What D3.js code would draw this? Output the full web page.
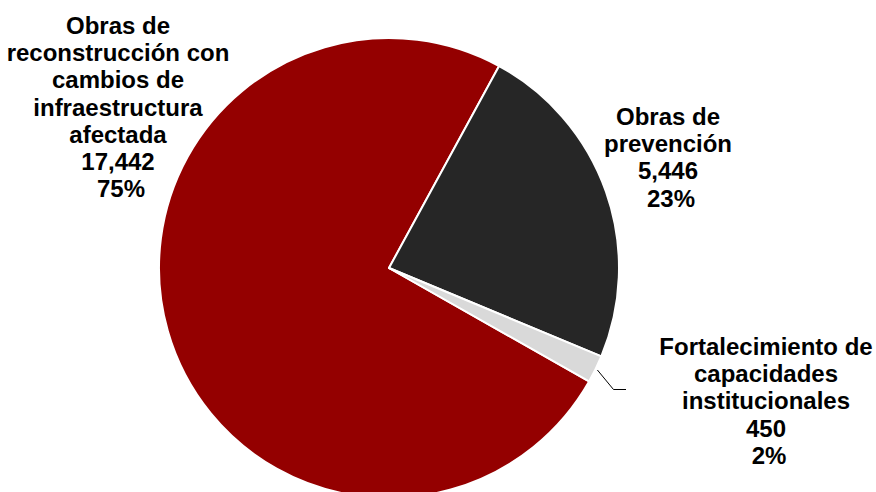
<!DOCTYPE html>
<html>
<head>
<meta charset="utf-8">
<script src="https://cdn.jsdelivr.net/npm/d3@7"></script>
<style>
  html, body { margin: 0; padding: 0; background: #ffffff; }
  svg { display: block; }
  text { font-family: "Liberation Sans", Arial, sans-serif; font-weight: bold; fill: #000; }
</style>
</head>
<body>
<svg id="chart" width="876" height="492"></svg>
<script>
// Distribution of works by type
const categories = [
  ["Obras de", "reconstrucción con", "cambios de", "infraestructura", "afectada"],
  ["Obras de", "prevención"],
  ["Fortalecimiento de", "capacidades", "institucionales"]
];
const values = [17442, 5446, 450];
const colors = ["#940000", "#262626", "#d9d9d9"];

const width = 876, height = 492;
const cx = 389, cy = 268, radius = 230;

const svg = d3.select("#chart");
const g = svg.append("g").attr("transform", `translate(${cx},${cy})`);

const total = d3.sum(values);
const startDeg = 119.55;
const pie = d3.pie()
  .sort(null)
  .value(d => d)
  .startAngle(startDeg * Math.PI / 180)
  .endAngle(startDeg * Math.PI / 180 + 2 * Math.PI);

const arc = d3.arc().innerRadius(0).outerRadius(radius);
const arcs = pie(values);

g.selectAll("path.slice")
  .data(arcs)
  .join("path")
  .attr("class", "slice")
  .attr("d", arc)
  .attr("fill", (d, i) => colors[i])
  .attr("stroke", "#ffffff")
  .attr("stroke-width", 2)
  .attr("stroke-linejoin", "round");

// Leader line for the small slice
const small = arcs[2];
const mid = (small.startAngle + small.endAngle) / 2;
const r0 = radius + 2;
const p0 = [cx + r0 * Math.sin(mid), cy - r0 * Math.cos(mid)];
svg.append("polyline")
  .attr("points", [p0, [613.5, 389.5], [626, 389.5]].map(p => p.join(",")).join(" "))
  .attr("fill", "none")
  .attr("stroke", "#000")
  .attr("stroke-width", 1);

// Labels: name lines, value, percentage
const fmt = d3.format(",");
const labelPos = [
  { x: 118, y: 34 },
  { x: 668, y: 125 },
  { x: 766, y: 355 }
];
const lineH = 27.2;

categories.forEach((lines, i) => {
  const pct = Math.round(values[i] / total * 100) + "%";
  const all = lines.concat([fmt(values[i]), pct]);
  const t = svg.append("text")
    .attr("text-anchor", "middle")
    .attr("font-size", 24);
  all.forEach((s, k) => {
    t.append("tspan")
      .attr("x", labelPos[i].x + (k === all.length - 1 ? 3 : 0))
      .attr("y", labelPos[i].y + k * lineH)
      .text(s);
  });
});
</script>
</body>
</html>
